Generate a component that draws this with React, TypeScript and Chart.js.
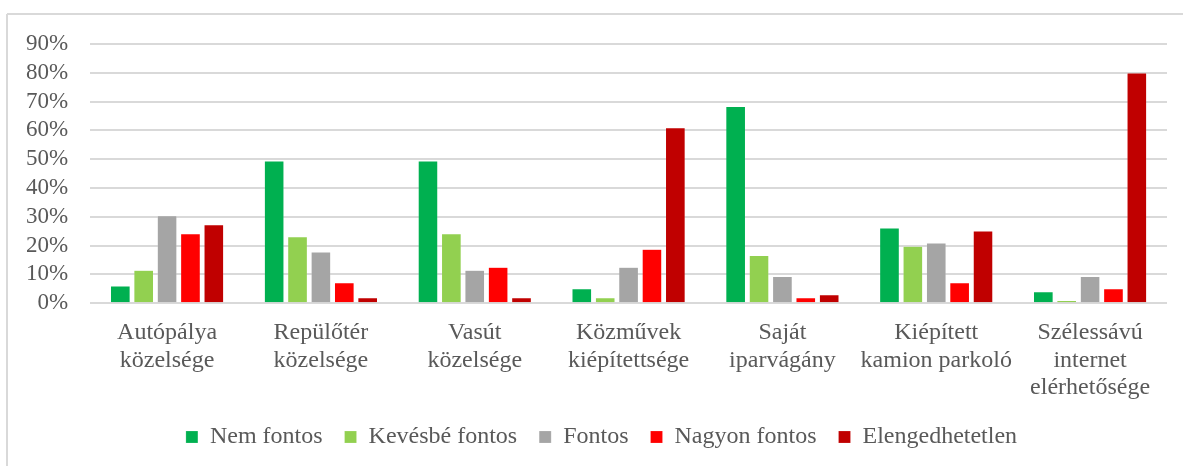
import React, { useEffect, useRef } from "react";
import { Chart, registerables } from "chart.js";

Chart.register(...registerables);

const categories: string[][] = [
  ["Autópálya", "közelsége"],
  ["Repülőtér", "közelsége"],
  ["Vasút", "közelsége"],
  ["Közművek", "kiépítettsége"],
  ["Saját", "iparvágány"],
  ["Kiépített", "kamion parkoló"],
  ["Szélessávú", "internet", "elérhetősége"],
];

const nemFontos = [6.0, 49.4, 49.4, 5.0, 68.3, 26.1, 4.0];
const kevesbeFontos = [11.4, 23.1, 24.1, 1.9, 16.6, 19.8, 0.9];
const fontos = [30.4, 17.8, 11.4, 12.5, 9.3, 20.9, 9.3];
const nagyonFontos = [24.1, 7.1, 12.5, 18.7, 1.9, 7.1, 5.0];
const elengedhetetlen = [27.2, 1.9, 1.9, 60.9, 2.9, 25.1, 79.9];

const seriesNames = ["Nem fontos", "Kevésbé fontos", "Fontos", "Nagyon fontos", "Elengedhetetlen"];
const seriesColors = ["#00B050", "#92D050", "#A5A5A5", "#FF0000", "#C00000"];

const FONT = "'Liberation Serif', 'Times New Roman', serif";
const TEXT = "#595959";

const frame = {
  id: "frame",
  afterLayout(chart: any) {
    const lg = chart.legend;
    if (lg) {
      lg.left += 16;
      lg.right += 16;
    }
  },
  beforeDraw(chart: any) {
    const ctx = chart.ctx;
    ctx.save();
    ctx.strokeStyle = "#D9D9D9";
    ctx.lineWidth = 2;
    ctx.beginPath();
    ctx.moveTo(7, 14);
    ctx.lineTo(1183, 14);
    ctx.moveTo(7, 14);
    ctx.lineTo(7, 466);
    ctx.stroke();
    ctx.restore();
  },
};

export default function App() {
  const ref = useRef<HTMLCanvasElement>(null);
  useEffect(() => {
    if (!ref.current) return;
    const all = [nemFontos, kevesbeFontos, fontos, nagyonFontos, elengedhetetlen];
    const chart = new Chart(ref.current, {
      type: "bar",
      data: {
        labels: categories,
        datasets: all.map((d, i) => ({
          label: seriesNames[i],
          data: d,
          backgroundColor: seriesColors[i],
          borderColor: "rgba(255,255,255,0.35)",
          borderWidth: 0.5,
          barPercentage: 0.84,
          categoryPercentage: 0.76,
        })),
      },
      options: {
        animation: false,
        responsive: false,
        maintainAspectRatio: false,
        layout: { padding: { left: 4, right: 16, top: 44, bottom: 7 } },
        plugins: {
          tooltip: { enabled: false },
          legend: {
            position: "bottom",
            labels: {
              boxWidth: 12,
              boxHeight: 12,
              padding: 22,
              color: TEXT,
              font: { family: FONT, size: 24 },
            },
          },
        },
        scales: {
          x: {
            grid: { display: false, drawTicks: false },
            border: { display: false },
            afterFit: (scale: any) => {
              scale.height -= 15;
            },
            ticks: {
              color: TEXT,
              font: { family: FONT, size: 24, lineHeight: 1.15 },
              padding: 16,
              maxRotation: 0,
              autoSkip: false,
            },
          },
          y: {
            min: 0,
            max: 90,
            grid: { color: "#D9D9D9", lineWidth: 2, drawTicks: false },
            border: { display: false },
            ticks: {
              stepSize: 10,
              autoSkip: false,
              color: TEXT,
              font: { family: FONT, size: 23 },
              padding: 22,
              callback: (v: any) => v + "%",
            },
          },
        },
      },
      plugins: [frame],
    });
    return () => chart.destroy();
  }, []);
  return (
    <div style={{ position: "absolute", left: 0, top: 0, width: 1183, height: 466, background: "#fff" }}>
      <canvas ref={ref} width={1183} height={466} />
    </div>
  );
}
